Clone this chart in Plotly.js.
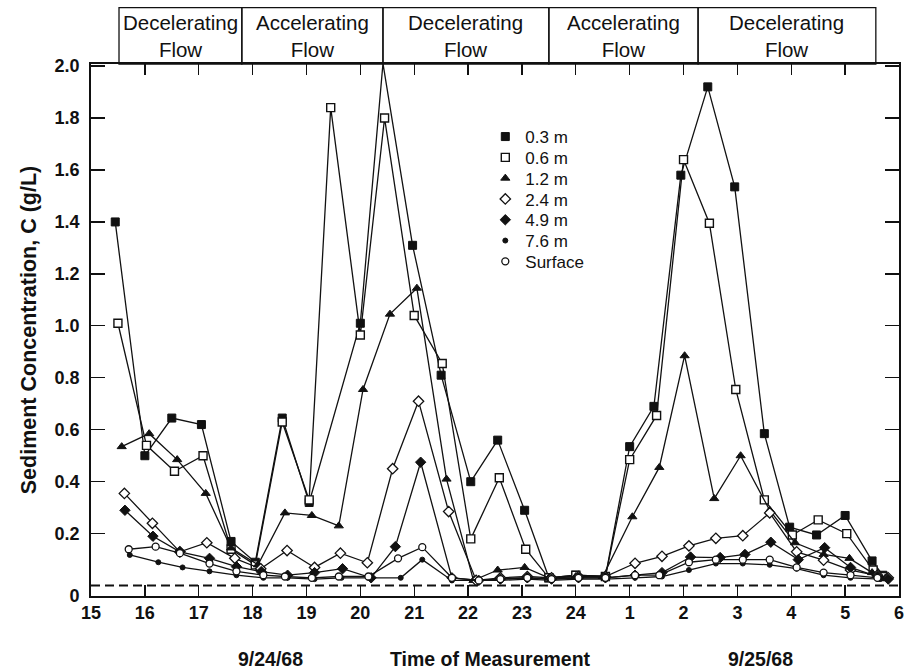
<!DOCTYPE html>
<html><head><meta charset="utf-8">
<script src="https://cdn.plot.ly/plotly-3.0.1.min.js"></script>
<style>body{margin:0;background:#fff}#chart{width:904px;height:669px}</style>
</head><body><div id="chart"></div>
<script>
// ---- data (hours since midnight 9/24/68; 25 = 1 am 9/25) ----
const xTickVals = [15,16,17,18,19,20,21,22,23,24,25,26,27,28,29,30];
const xTickText = ['15','16','17','18','19','20','21','22','23','24','1','2','3','4','5','6'];
const yTickVals = [-0.04,0.2,0.4,0.6,0.8,1.0,1.2,1.4,1.6,1.8,2.0];
const yTickText = ['0','0.2','0.4','0.6','0.8','1.0','1.2','1.4','1.6','1.8','2.0'];

const seriesNames = ['0.3 m','0.6 m','1.2 m','2.4 m','4.9 m','7.6 m','Surface'];

const t03 = [15.45,16.0,16.5,17.05,17.6,18.05,18.55,19.05,20.0,20.42,20.97,21.5,22.05,22.55,23.05,23.5,24.0,24.55,25.0,25.45,25.95,26.45,26.95,27.5,27.97,28.47,29.0,29.5,29.7];
const c03 = [1.40,0.50,0.645,0.62,0.17,0.09,0.645,0.32,1.01,2.01,1.31,0.81,0.40,0.56,0.29,0.03,0.04,0.035,0.535,0.69,1.58,1.92,1.535,0.585,0.225,0.195,0.27,0.095,0.04];

const t06 = [15.5,16.03,16.55,17.08,17.6,18.05,18.55,19.05,19.45,20.0,20.45,21.0,21.52,22.05,22.58,23.07,23.5,24.0,24.55,25.0,25.5,26.0,26.48,26.97,27.5,28.02,28.5,29.03,29.52,29.7];
const c06 = [1.01,0.54,0.44,0.50,0.14,0.08,0.63,0.33,1.84,0.965,1.80,1.04,0.855,0.18,0.415,0.14,0.03,0.04,0.035,0.485,0.655,1.64,1.395,0.755,0.33,0.195,0.253,0.20,0.06,0.035];

const t12 = [15.57,16.08,16.6,17.13,17.6,18.1,18.6,19.1,19.6,20.05,20.55,21.05,21.6,22.1,22.55,23.05,23.5,24.0,24.5,25.05,25.55,26.02,26.57,27.06,27.6,28.07,28.6,29.08,29.5,29.75];
const c12 = [0.535,0.585,0.485,0.355,0.145,0.08,0.28,0.27,0.23,0.755,1.045,1.145,0.41,0.02,0.06,0.07,0.03,0.035,0.035,0.265,0.455,0.885,0.335,0.50,0.29,0.165,0.12,0.105,0.05,0.03];

const t24 = [15.62,16.14,16.65,17.15,17.67,18.15,18.64,19.15,19.63,20.13,20.6,21.08,21.64,22.15,22.6,23.1,23.55,24.05,24.55,25.1,25.6,26.1,26.6,27.1,27.6,28.1,28.6,29.1,29.6,29.8];
const c24 = [0.355,0.24,0.13,0.165,0.105,0.065,0.135,0.07,0.125,0.088,0.45,0.71,0.285,0.02,0.03,0.035,0.03,0.035,0.035,0.086,0.113,0.153,0.182,0.192,0.28,0.13,0.098,0.06,0.04,0.03];

const t49 = [15.63,16.15,16.65,17.2,17.7,18.16,18.65,19.15,19.67,20.2,20.65,21.12,21.7,22.2,22.6,23.1,23.55,24.05,24.55,25.1,25.6,26.13,26.68,27.14,27.62,28.13,28.62,29.1,29.6,29.8];
const c49 = [0.29,0.19,0.13,0.105,0.073,0.054,0.04,0.05,0.065,0.03,0.15,0.475,0.03,0.02,0.025,0.03,0.025,0.03,0.03,0.04,0.05,0.11,0.108,0.12,0.167,0.10,0.146,0.07,0.035,0.025];

const t76 = [15.72,16.25,16.7,17.2,17.7,18.2,18.65,19.15,19.65,20.15,20.75,21.15,21.7,22.2,22.6,23.1,23.55,24.05,24.55,25.1,25.6,26.1,26.6,27.1,27.6,28.1,28.6,29.1,29.65];
const c76 = [0.118,0.09,0.07,0.055,0.04,0.03,0.03,0.025,0.03,0.03,0.03,0.10,0.02,0.02,0.02,0.025,0.02,0.025,0.025,0.03,0.035,0.06,0.085,0.085,0.08,0.065,0.04,0.03,0.025];

const tSf = [15.7,16.2,16.65,17.2,17.7,18.2,18.6,19.1,19.6,20.15,20.7,21.15,21.7,22.2,22.6,23.1,23.55,24.05,24.55,25.1,25.55,26.1,26.6,27.1,27.6,28.1,28.6,29.1,29.6];
const cSf = [0.14,0.15,0.125,0.085,0.055,0.04,0.035,0.03,0.035,0.035,0.105,0.148,0.03,0.02,0.025,0.03,0.025,0.03,0.03,0.04,0.04,0.09,0.10,0.10,0.10,0.07,0.05,0.04,0.03];

const detectionLimit = 0.0;

const phaseBounds = [15.52,17.8,20.42,23.5,26.27,29.57];
const phaseLabels = ['Decelerating<br>Flow','Accelerating<br>Flow','Decelerating<br>Flow','Accelerating<br>Flow','Decelerating<br>Flow'];

// ---- styles ----
const K = '#111';
const styles = [
  {symbol:'square', size:8, color:K, line:{color:K,width:1}},
  {symbol:'square', size:8, color:'#fff', line:{color:K,width:1.4}},
  {symbol:'triangle-up', size:8, color:K, line:{color:K,width:1}},
  {symbol:'diamond', size:8, color:'#fff', line:{color:K,width:1.3}},
  {symbol:'diamond', size:8, color:K, line:{color:K,width:1}},
  {symbol:'circle', size:5, color:K, line:{color:K,width:1}},
  {symbol:'circle', size:7, color:'#fff', line:{color:K,width:1.3}}
];
const xs = [t03,t06,t12,t24,t49,t76,tSf];
const ys = [c03,c06,c12,c24,c49,c76,cSf];

const traces = [];
for (let i=0;i<xs.length;i++){
  traces.push({x:xs[i], y:ys[i], mode:'lines+markers', type:'scatter', showlegend:false,
    line:{color:K,width:1.3}, marker:styles[i], cliponaxis:false, hoverinfo:'skip'});
}
const legendFont = {family:'Liberation Sans, Arial', size:17, color:K};
const layoutLegends = {};
for (let i=0;i<seriesNames.length;i++){
  const key = i===0 ? 'legend' : 'legend'+(i+1);
  traces.push({x:[null], y:[null], mode:'markers', type:'scatter', name:seriesNames[i],
    marker:styles[i], showlegend:true, legend:key});
  const rowPx = 137 + i*20.8;
  layoutLegends[key] = {x:0.488, y:(596-rowPx)/532, xanchor:'left', yanchor:'middle',
    bgcolor:'rgba(0,0,0,0)', font:legendFont, itemwidth:30};
}

const shapes = [{type:'line', xref:'x', yref:'y', x0:15, x1:30, y0:detectionLimit, y1:detectionLimit,
  line:{color:K, width:2, dash:'9px,5px'}}];
const annotations = [];
for (let i=0;i<phaseLabels.length;i++){
  shapes.push({type:'rect', xref:'x', yref:'paper', x0:phaseBounds[i], x1:phaseBounds[i+1], y0:1, y1:1.106,
    line:{color:K, width:1.3}, fillcolor:'rgba(0,0,0,0)'});
  annotations.push({xref:'x', yref:'paper', x:(phaseBounds[i]+phaseBounds[i+1])/2, y:1.053, yanchor:'middle', xanchor:'center',
    text:phaseLabels[i], showarrow:false,
    font:{family:'Liberation Sans, Arial', size:20.5, color:K}});
}
const fBold = {family:'Liberation Sans, Arial, Helvetica', size:19.5, color:K, weight:'bold'};
const fTick = {family:'Liberation Sans, Arial, Helvetica', size:18, color:K, weight:'bold'};
const fYTitle = {family:'Liberation Sans, Arial, Helvetica', size:21.5, color:K, weight:'bold'};
annotations.push({xref:'paper', yref:'paper', x:(236-91)/808, y:-0.118, yanchor:'middle', text:'9/24/68', showarrow:false, font:fBold});
annotations.push({xref:'paper', yref:'paper', x:(490-91)/808, y:-0.118, yanchor:'middle', text:'Time of Measurement', showarrow:false, font:fBold});
annotations.push({xref:'paper', yref:'paper', x:(795-91)/808, y:-0.118, yanchor:'middle', text:'9/25/68', showarrow:false, font:fBold});

const layout = Object.assign({
  width:904, height:669,
  margin:{l:91, r:5, t:64, b:73},
  paper_bgcolor:'#fff', plot_bgcolor:'#fff',
  showlegend:true,
  xaxis:{range:[15,30], tickvals:xTickVals, ticktext:xTickText, ticks:'inside', ticklen:11, tickwidth:1.3, tickcolor:K,
    showline:true, linecolor:K, linewidth:1.8, mirror:'ticks', showgrid:false, zeroline:false,
    tickfont:fTick, ticklabeloverflow:'allow'},
  yaxis:{range:[-0.04,2.008], tickvals:yTickVals, ticktext:yTickText, ticks:'inside', ticklen:14, tickwidth:1.3, tickcolor:K,
    showline:true, linecolor:K, linewidth:1.8, mirror:'ticks', showgrid:false, zeroline:false,
    tickfont:fTick, ticklabelstandoff:6,
    title:{text:'Sediment Concentration, C (g/L)', font:fYTitle, standoff:12}},
  shapes:shapes, annotations:annotations
}, layoutLegends);
Plotly.newPlot('chart', traces, layout, {displayModeBar:false, staticPlot:true});
</script>
</body></html>
